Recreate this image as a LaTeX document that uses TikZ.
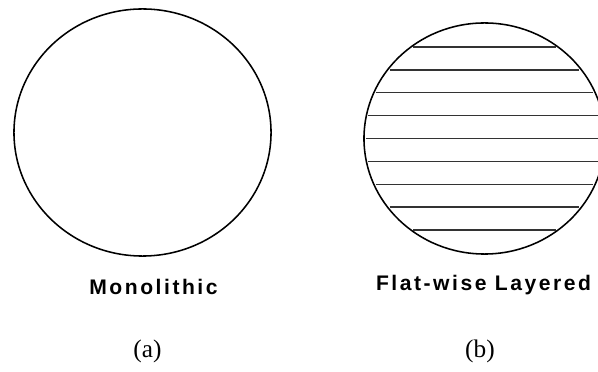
\documentclass[tikz,border=0pt]{standalone}
\usepackage{fontspec}
\setmainfont{Liberation Serif}
\newfontfamily\capfont[LetterSpace=12]{Liberation Sans Bold}
\usetikzlibrary{shapes.geometric}

\begin{document}
\begin{tikzpicture}[x=0.025cm, y=-0.025cm,
        disc/.style={ellipse, draw, line width=1.1pt, inner sep=0pt},
        layer/.style={line width=1.1pt, black!80},
        caption/.style={font=\capfont\fontsize{15}{18}\selectfont, anchor=base},
        tag/.style={font=\fontsize{18}{21}\selectfont, anchor=base}
    ]
        \path[use as bounding box] (0,0) rectangle (598,372);
        \clip (0,0) rectangle (598,372);

        % Cross sections
        \node (mono) [disc, minimum width=6.425cm, minimum height=6.175cm] at (142.5,132.5) {};
        \node (flat) [disc, minimum width=6.025cm, minimum height=5.775cm] at (484.5,138.5) {};

        % Layers
        \foreach \k in {-4,...,4} {
            \pgfmathsetmacro{\hw}{120.5*sqrt(1-(\k*22.9/115.5)^2)-2}
            \draw[layer] (484.5-\hw, 138.5+\k*22.9) -- (484.5+\hw, 138.5+\k*22.9);
        }

        % Captions
        \node (mono_txt) [caption] at (153.5,295) {Monolithic};
        \node (flat_txt) [caption] at (483.5,291) {Flat-wise Layered};
        \node (tag_a) [tag] at (147.5,358) {(a)};
        \node (tag_b) [tag] at (480,358) {(b)};

    \end{tikzpicture}
\end{document}
